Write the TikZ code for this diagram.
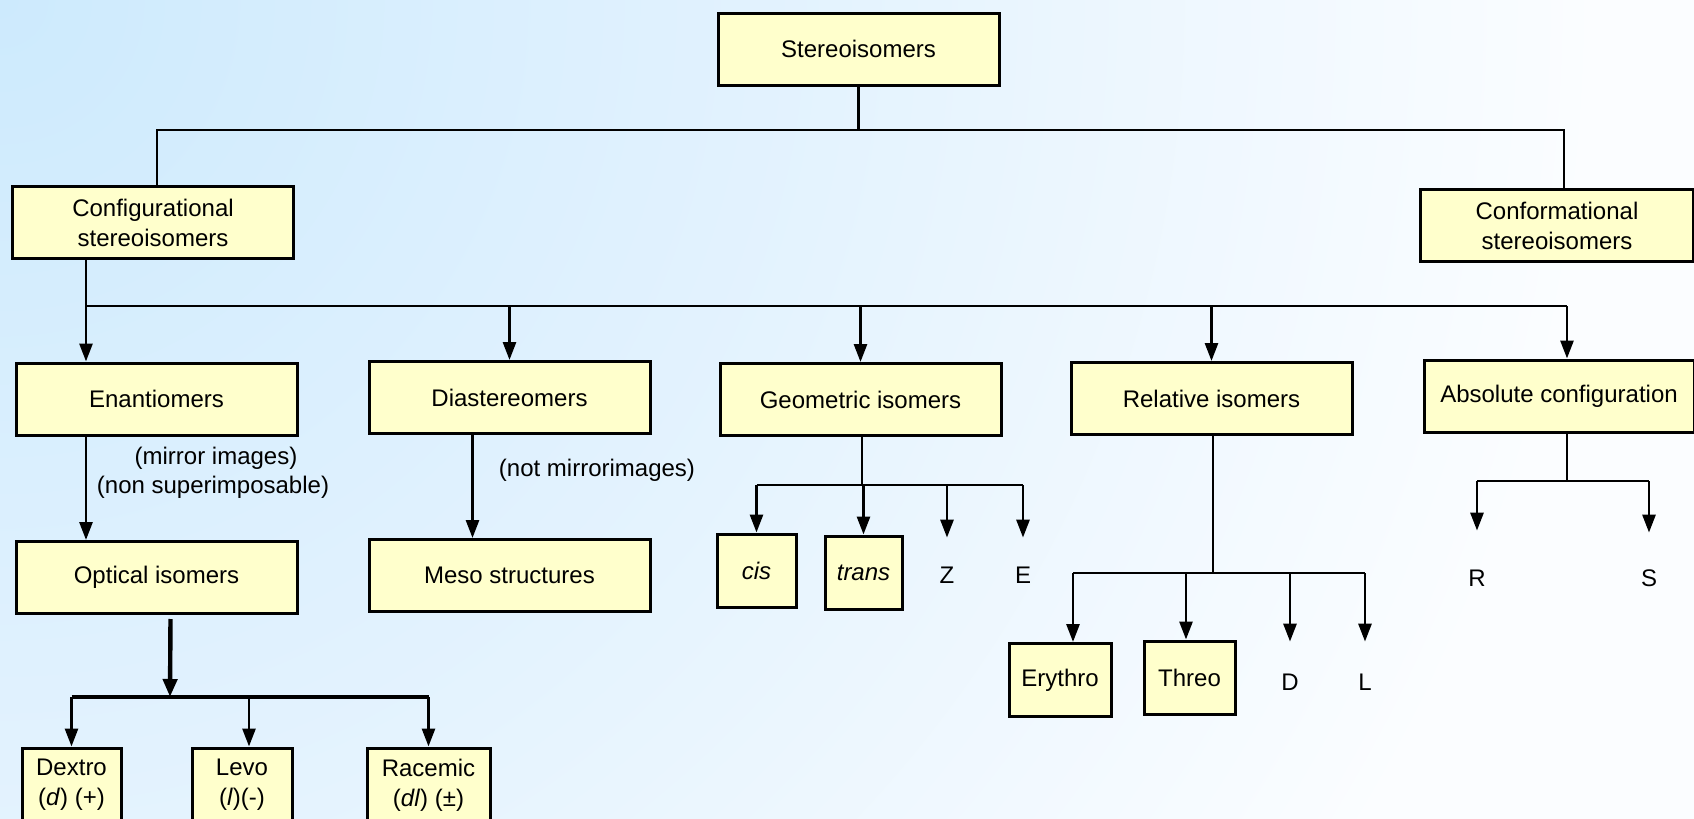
\documentclass[tikz,border=0pt]{standalone}
\usepackage{fontspec}
\setmainfont{Liberation Sans}
\usepackage{tikz}
\usetikzlibrary{arrows.meta,positioning}
\definecolor{boxfill}{RGB}{255,255,204}
\definecolor{bgA}{RGB}{205,234,253}
\definecolor{bgM}{RGB}{226,242,254}
\definecolor{bgB}{RGB}{251,253,255}
\pgfdeclareradialshading{bgglow}{\pgfpoint{0bp}{0bp}}{color(0bp)=(bgA); color(12bp)=(bgM); color(25bp)=(bgB); color(50bp)=(bgB)}
\tikzstyle{isobox}=[rectangle,draw=black,line width=1.5pt,fill=boxfill,align=center,inner sep=1pt,minimum width=140.5pt,minimum height=36pt]
\tikzstyle{smallbox}=[isobox,minimum width=39.5pt,minimum height=36.5pt]
\tikzstyle{symb}=[inner sep=0pt,minimum height=40pt]
\tikzstyle{conn}=[line width=1.4pt]
\tikzstyle{arr}=[conn,-{Triangle[length=9pt,width=6.5pt]}]

\begin{document}
\begin{tikzpicture}[x=0.5pt,y=-0.5pt,font=\fontsize{12}{15}\selectfont]
	\useasboundingbox (0,0) rectangle (1694,819);
	\clip (0,0) rectangle (1694,819);
	\fill[bgB] (0,0) rectangle (1694,819);
	\shade[shading=bgglow] (0,0) circle (800pt);
	% boxes
	\node[isobox] (stereo) at (858.5,49) {Stereoisomers};
	\node[isobox] (config) at (153,222.5) {Configurational\\stereoisomers};
	\node[isobox,minimum width=136.5pt] (conform) at (1557,225.5) {Conformational\\stereoisomers};
	\node[isobox] (enant) at (156.5,399) {Enantiomers};
	\node[isobox] (dia) at (509.5,397.5) {Diastereomers};
	\node[isobox] (geo) at (860.5,399.5) {Geometric isomers};
	\node[isobox] (rel) at (1211.5,398.5) {Relative isomers};
	\node[isobox,minimum width=135pt] (absconf) at (1559,396) {Absolute configuration};
	\node[isobox] (optical) at (156.5,577.5) {Optical isomers};
	\node[isobox] (meso) at (509.5,575.5) {Meso structures};
	\node[smallbox] (cis) at (756.5,570.5) {\textit{cis}};
	\node[smallbox,minimum width=38.5pt] (trans) at (863.5,572.5) {\textit{trans}};
	\node[smallbox,minimum width=51pt] (ery) at (1060,680) {Erythro};
	\node[smallbox,minimum width=45.5pt] (threo) at (1189.5,677.5) {Threo};
	\node[smallbox,minimum width=49.5pt,minimum height=37pt] (dextro) at (71.5,785) {Dextro\\(\textit{d}) (+)};
	\node[smallbox,minimum width=50pt,minimum height=37pt] (levo) at (242,785) {Levo\\(\textit{l})(-)};
	\node[smallbox,minimum width=61.5pt,minimum height=37pt] (racemic) at (428.5,785) {Racemic\\(\textit{dl}) (±)};
	% plain letters
	\node[symb,minimum height=37pt] (zl) at (947,575) {Z};
	\node[symb,minimum height=37pt] (el) at (1023,575) {E};
	\node[symb] (dl) at (1290,682) {D};
	\node[symb] (ll) at (1365,682) {L};
	\node[symb,minimum height=47pt] (rl) at (1477,578) {R};
	\node[symb,minimum height=45pt] (sl) at (1649,578) {S};
	% notes
	\node (mirror) at (216,458) {(mirror images)};
	\node (nonsup) at (213,487) {(non superimposable)};
	\node (notmirror) at (597,470) {(not mirrorimages)};

	% top level
	\coordinate (topbar) at (858.5,130);
	\draw[conn] (stereo.south) -- (topbar);
	\draw[conn] ([xshift=2pt]config.north) |- (topbar) -| ([xshift=3.5pt]conform.north);
	% second level
	\coordinate (trunk) at (86,306);
	\coordinate (midbar) at (1567,306);
	\draw[arr] (trunk |- config.south) -- (trunk |- enant.north);
	\draw[conn] (trunk) -- (midbar);
	\foreach \b in {dia,geo,rel}
	\draw[arr] (trunk -| \b.north) -- (\b.north);
	\draw[arr] (midbar) -- (midbar |- absconf.north);
	\draw[arr] (trunk |- enant.south) -- (trunk |- optical.north);
	\draw[arr] ([xshift=-18.5pt]dia.south) -- ([xshift=-18.5pt]meso.north);
	% geometric
	\coordinate (geobar) at (862,485);
	\draw[conn] (geobar |- geo.south) -- (geobar);
	\draw[conn] (geobar -| cis.north) -- (geobar -| el.north);
	\foreach \b in {cis,trans,zl,el}
	\draw[arr] (geobar -| \b.north) -- (\b.north);
	% relative
	\coordinate (relbar) at (1213,573);
	\coordinate (eryin) at ([xshift=6.5pt]ery.north);
	\coordinate (threoin) at ([xshift=-1.75pt]threo.north);
	\draw[conn] (relbar |- rel.south) -- (relbar);
	\draw[conn] (relbar -| eryin) -- (relbar -| ll.north);
	\foreach \b in {eryin,threoin}
	\draw[arr] (relbar -| \b) -- (\b);
	\foreach \b in {dl,ll}
	\draw[arr] (relbar -| \b.north) -- (\b.north);
	% absolute
	\coordinate (absbar) at (1567,481);
	\draw[conn] (midbar |- absconf.south) -- (absbar);
	\draw[conn] (absbar -| rl.north) -- (absbar -| sl.north);
	\foreach \b in {rl,sl}
	\draw[arr] (absbar -| \b.north) -- (\b.north);
	% optical
	\coordinate (optbar) at (170,697);
	\coordinate (levoin) at ([xshift=3.5pt]levo.north);
	\draw[line width=2.2pt,-{Triangle[length=9pt,width=7pt]}] ([xshift=7pt,yshift=-2pt]optical.south) -- (optbar);
	\draw[line width=2.2pt] (optbar -| dextro.north) -- (optbar -| racemic.north);
	\draw[arr] (optbar -| levoin) -- (levoin);
	\foreach \b in {dextro,racemic}
	\draw[arr] (optbar -| \b.north) -- (\b.north);
\end{tikzpicture}
\end{document}
